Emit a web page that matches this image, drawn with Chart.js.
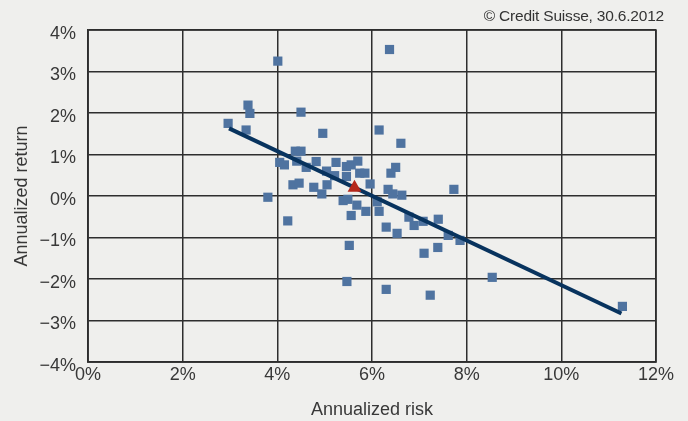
<!DOCTYPE html>
<html>
<head>
<meta charset="utf-8">
<script src="https://cdn.jsdelivr.net/npm/chart.js@4"></script>
<style>
  html, body { margin: 0; padding: 0; background: #efefed; }
  #wrap { position: relative; width: 688px; height: 421px; }
  #source {
    position: absolute; right: 24px; top: 8px;
    font: 15.5px "Liberation Sans", Arial, sans-serif; line-height: 1;
    color: #333; letter-spacing: -0.2px;
  }
</style>
</head>
<body>
<div id="wrap">
  <canvas id="myChart" width="688" height="421"></canvas>
  <div id="source">© Credit Suisse, 30.6.2012</div>
</div>
<script>
// annualized risk (%) of each fund
const riskX = [
  6.37, 4.01, 3.38, 3.42, 4.50, 2.96, 3.34, 4.96, 6.15, 6.61,
  4.38, 4.50, 4.05, 4.15, 4.41, 4.61, 4.82, 5.04, 5.24, 5.46,
  5.56, 5.70, 5.21, 5.46, 5.74, 5.85, 6.50, 6.40, 5.96, 6.34,
  6.44, 6.63, 4.33, 4.46, 4.77, 5.05, 4.94, 3.80, 4.22, 5.39,
  5.49, 5.68, 5.87, 5.56, 6.15, 6.11, 7.73, 6.78, 7.08, 7.40,
  6.89, 6.30, 6.53, 7.61, 7.86, 7.39, 7.10, 5.52, 8.54, 5.47,
  6.30, 7.23, 11.29
];
// annualized return (%) of each fund
const returnY = [
  3.53, 3.25, 2.19, 1.99, 2.02, 1.75, 1.59, 1.51, 1.59, 1.27,
  1.08, 1.08, 0.81, 0.75, 0.84, 0.69, 0.83, 0.60, 0.81, 0.71,
  0.75, 0.84, 0.49, 0.47, 0.55, 0.55, 0.69, 0.55, 0.29, 0.16,
  0.05, 0.02, 0.27, 0.31, 0.21, 0.27, 0.05, -0.03, -0.60, -0.11,
  -0.08, -0.22, -0.37, -0.47, -0.37, -0.14, 0.16, -0.51, -0.61, -0.56,
  -0.71, -0.75, -0.90, -0.95, -1.07, -1.24, -1.38, -1.19, -1.96, -2.06,
  -2.25, -2.39, -2.66
];
// regression line end points
const trendX = [2.98, 11.27];
const trendY = [1.63, -2.83];
// average
const meanX = [5.63];
const meanY = [0.20];

const xTicks = [0, 2, 4, 6, 8, 10, 12];
const yTicks = [-4, -3, -2, -1, 0, 1, 2, 3, 4];

const toPoints = (xs, ys) => xs.map((x, i) => ({ x: x, y: ys[i] }));
const pct = v => (v < 0 ? "\u2212" + Math.abs(v) : v) + "%";

const font = { family: "'Liberation Sans', Arial, sans-serif", size: 18 };
const textColor = "#383838";
const gridColor = "#2e2e2e";

new Chart("myChart", {
  type: "scatter",
  data: {
    datasets: [
      {
        data: toPoints(meanX, meanY),
        pointStyle: "triangle",
        pointRadius: 8,
        backgroundColor: "#b5281c",
        borderWidth: 0,
        order: 0
      },
      {
        type: "line",
        data: toPoints(trendX, trendY),
        borderColor: "#08335e",
        borderWidth: 4,
        pointRadius: 0,
        fill: false,
        order: 1
      },
      {
        data: toPoints(riskX, returnY),
        pointStyle: "rect",
        pointRadius: 6.5,
        backgroundColor: "#4f73a0",
        borderWidth: 0,
        order: 2
      }
    ]
  },
  options: {
    responsive: false,
    animation: false,
    layout: { padding: { top: 30, right: 32, left: 0, bottom: 0 } },
    plugins: { legend: { display: false }, tooltip: { enabled: false } },
    scales: {
      x: {
        type: "linear",
        min: 0, max: 12,
        afterBuildTicks: s => { s.ticks = xTicks.map(v => ({ value: v })); },
        afterFit: s => { s.height = 59; },
        ticks: { callback: pct, font: font, color: textColor, padding: 2, maxRotation: 0 },
        grid: { color: gridColor, lineWidth: 1.5, drawTicks: false },
        border: { color: gridColor, width: 1.5 },
        title: { display: true, text: "Annualized risk", font: font, color: textColor, padding: { top: 0, bottom: 0 } }
      },
      y: {
        type: "linear",
        min: -4, max: 4,
        afterBuildTicks: s => { s.ticks = yTicks.map(v => ({ value: v })); },
        afterFit: s => { s.width = 88; },
        ticks: { callback: pct, font: font, color: textColor, padding: 12, labelOffset: 4 },
        grid: { color: gridColor, lineWidth: 1.5, drawTicks: false },
        border: { color: gridColor, width: 1.5 },
        title: { display: true, text: "Annualized return", font: font, color: textColor, padding: { top: 11, bottom: 0 } }
      }
    }
  },
  plugins: [{
    id: "frame",
    afterDraw(chart) {
      const { ctx, chartArea: a } = chart;
      ctx.save();
      ctx.strokeStyle = gridColor;
      ctx.lineWidth = 1.5;
      ctx.strokeRect(a.left, a.top, a.right - a.left, a.bottom - a.top);
      ctx.restore();
    }
  }]
});
</script>
</body>
</html>
